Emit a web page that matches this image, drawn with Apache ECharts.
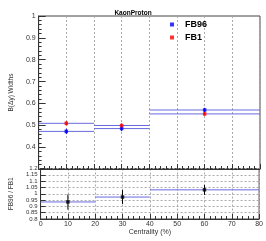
<!DOCTYPE html>
<html><head><meta charset="utf-8">
<script src="https://cdn.jsdelivr.net/npm/echarts@6/dist/echarts.min.js"></script>
<style>html,body{margin:0;padding:0;background:#fff}#c{width:266px;height:241px}</style>
</head><body><div id="c"></div>
<script>
const binLow = [0, 20, 40];
const binHigh = [20, 40, 80];
const centers = [10, 30, 60];
const fb96 = [0.472, 0.485, 0.570];
const fb96Err = [0.012, 0.012, 0.010];
const fb1 = [0.509, 0.499, 0.552];
const fb1Err = [0.010, 0.010, 0.008];
const ratio = [0.935, 0.974, 1.031];
const ratioErr = [0.060, 0.055, 0.040];
const xTicks = [0, 10, 20, 30, 40, 50, 60, 70, 80];

const FONT = 'Liberation Sans';
const lineCol = '#6a6ae0';

function errData(vals, errs) {
  return vals.map((v, i) => [binLow[i], binHigh[i], centers[i], v, errs[i]]);
}
function errRender(color) {
  return function (params, api) {
    const x0 = api.value(0), x1 = api.value(1), xc = api.value(2), y = api.value(3), e = api.value(4);
    const a = api.coord([x0, y]), b = api.coord([x1, y]);
    const c = api.coord([xc, y - e]), d = api.coord([xc, y + e]);
    return {
      type: 'group',
      children: [
        {type: 'line', shape: {x1: a[0], y1: a[1], x2: b[0], y2: b[1]}, style: {stroke: lineCol, lineWidth: 1}},
        {type: 'line', shape: {x1: c[0], y1: c[1], x2: d[0], y2: d[1]}, style: {stroke: color, lineWidth: 1}}
      ]
    };
  };
}
function fmt(v) { return String(+v.toFixed(2)); }

const chart = echarts.init(document.getElementById('c'), null, {renderer: 'canvas'});
const axisLine = {lineStyle: {color: '#333', width: 1}};
const dashed = {show: true, lineStyle: {color: '#aaa', type: [2, 2], width: 1}};
chart.setOption({
  animation: false,
  title: {text: 'KaonProton', left: 'center', top: 5, textStyle: {fontFamily: FONT, fontSize: 6.5, fontWeight: 'bold', color: '#000'}},
  legend: {
    data: ['FB96', 'FB1'], orient: 'vertical', left: 170, top: 20, padding: 0,
    itemWidth: 4, itemHeight: 4, itemGap: 4,
    textStyle: {fontFamily: FONT, fontSize: 9, fontWeight: 'bold', color: '#000', padding: [0, 0, 0, 6]}
  },
  grid: [
    {left: 26, right: 6, top: 16, height: 153, show: true, borderColor: '#444', borderWidth: 1},
    {left: 26, right: 6, top: 168.5, height: 50.5, show: true, borderColor: '#444', borderWidth: 1}
  ],
  xAxis: [
    {gridIndex: 0, type: 'value', min: 0, max: 80, interval: 10, axisLine: axisLine,
     axisTick: {inside: true, length: 5, lineStyle: {color: '#333'}},
     minorTick: {show: true, splitNumber: 5, length: 3, lineStyle: {color: '#333'}},
     axisLabel: {show: false}, splitLine: dashed},
    {gridIndex: 1, type: 'value', min: 0, max: 80, interval: 10, axisLine: axisLine,
     axisTick: {inside: true, length: 5, lineStyle: {color: '#333'}},
     minorTick: {show: true, splitNumber: 5, length: 3, lineStyle: {color: '#333'}},
     axisLabel: {fontFamily: FONT, fontSize: 7, color: '#333', margin: 2, showMinLabel: true, showMaxLabel: true, hideOverlap: false,
                 formatter: v => xTicks.includes(v) ? String(v) : ''},
     splitLine: dashed,
     name: 'Centrality (%)', nameLocation: 'middle', nameGap: 10,
     nameTextStyle: {fontFamily: FONT, fontSize: 7, color: '#333'}}
  ],
  yAxis: [
    {gridIndex: 0, type: 'value', min: 0.3, max: 1, interval: 0.1, axisLine: axisLine,
     axisTick: {inside: true, length: 7, lineStyle: {color: '#333'}},
     minorTick: {show: true, splitNumber: 5, length: 3, lineStyle: {color: '#333'}},
     axisLabel: {fontFamily: FONT, fontSize: 7, color: '#333', margin: 3, showMinLabel: true, showMaxLabel: true, hideOverlap: false,
                 formatter: v => Math.abs(v - 0.3) < 1e-6 ? '' : fmt(v)},
     splitLine: {show: false},
     name: 'B(\u0394y) Widths', nameLocation: 'middle', nameGap: 14, nameRotate: 90,
     nameTextStyle: {fontFamily: FONT, fontSize: 6.5, color: '#333'}},
    {gridIndex: 1, type: 'value', min: 0.8, max: 1.2, interval: 0.05, axisLine: axisLine,
     axisTick: {inside: true, length: 5, lineStyle: {color: '#333'}},
     axisLabel: {fontFamily: FONT, fontSize: 6, lineHeight: 6, padding: 0, color: '#333', margin: 3, showMinLabel: true, showMaxLabel: true, hideOverlap: false,
                 formatter: v => fmt(v)},
     splitLine: dashed,
     name: 'FB96 / FB1', nameLocation: 'middle', nameGap: 18, nameRotate: 90,
     nameTextStyle: {fontFamily: FONT, fontSize: 6.5, color: '#333'}}
  ],
  series: [
    {type: 'custom', xAxisIndex: 0, yAxisIndex: 0, renderItem: errRender('#0000ff'), data: errData(fb96, fb96Err), silent: true},
    {type: 'custom', xAxisIndex: 0, yAxisIndex: 0, renderItem: errRender('#ff0000'), data: errData(fb1, fb1Err), silent: true},
    {type: 'custom', xAxisIndex: 1, yAxisIndex: 1, renderItem: errRender('#000'), data: errData(ratio, ratioErr), silent: true},
    {name: 'FB96', type: 'scatter', xAxisIndex: 0, yAxisIndex: 0, symbol: 'rect', symbolSize: 3.5,
     itemStyle: {color: '#0000ff'}, data: centers.map((x, i) => [x, fb96[i]]), z: 5},
    {name: 'FB1', type: 'scatter', xAxisIndex: 0, yAxisIndex: 0, symbol: 'rect', symbolSize: 3.5,
     itemStyle: {color: '#ff0000'}, data: centers.map((x, i) => [x, fb1[i]]), z: 5},
    {name: 'ratio', type: 'scatter', xAxisIndex: 1, yAxisIndex: 1, symbol: 'rect', symbolSize: 3.5,
     itemStyle: {color: '#000'}, data: centers.map((x, i) => [x, ratio[i]]), z: 5}
  ]
});
</script></body></html>
